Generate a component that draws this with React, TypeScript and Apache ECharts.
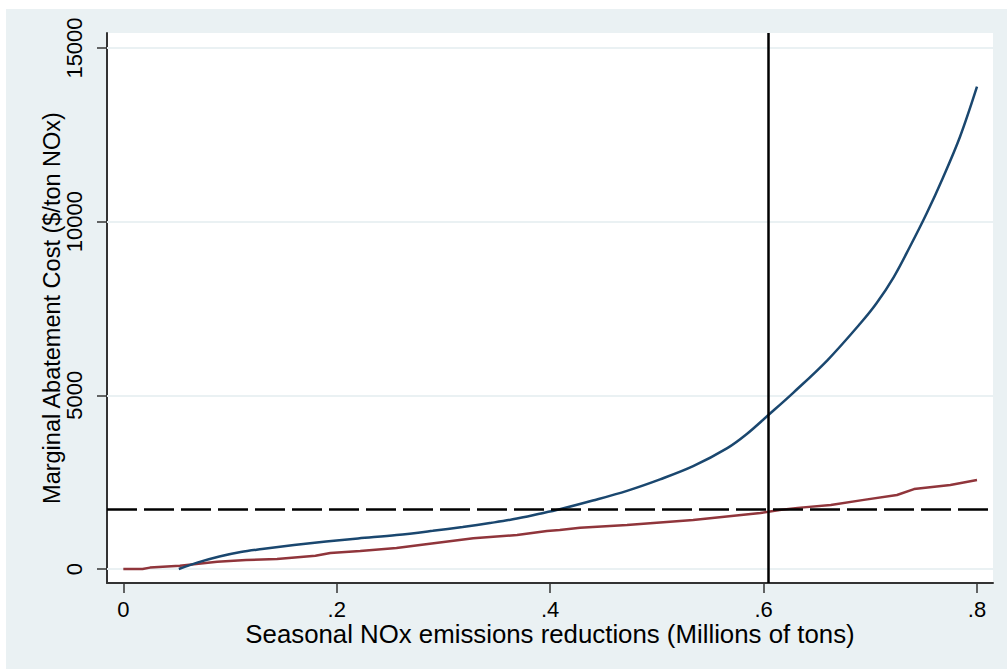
import React, { useEffect, useRef } from "react";
import * as echarts from "echarts";

// Blue curve (marginal abatement cost)
const blueX = [0.052, 0.07, 0.09, 0.11, 0.13, 0.16, 0.19, 0.22, 0.256, 0.29, 0.318, 0.345, 0.365, 0.39, 0.409, 0.44, 0.472, 0.503, 0.534, 0.566, 0.584, 0.604, 0.628, 0.66, 0.691, 0.706, 0.722, 0.737, 0.753, 0.768, 0.784, 0.8];
const blueY = [0, 190, 360, 490, 575, 690, 790, 880, 979, 1100, 1210, 1330, 1430, 1590, 1720, 1970, 2250, 2580, 2960, 3480, 3880, 4420, 5080, 6017, 7082, 7658, 8406, 9270, 10249, 11260, 12437, 13886];

// Red curve
const redX = [0, 0.018, 0.025, 0.053, 0.088, 0.115, 0.144, 0.18, 0.194, 0.222, 0.256, 0.278, 0.328, 0.369, 0.397, 0.409, 0.428, 0.472, 0.534, 0.597, 0.615, 0.632, 0.663, 0.694, 0.725, 0.741, 0.775, 0.8];
const redY = [0, 0, 40, 95, 210, 260, 290, 380, 460, 518, 605, 690, 883, 980, 1094, 1123, 1190, 1267, 1411, 1612, 1700, 1760, 1840, 1990, 2130, 2300, 2420, 2560];

const xTicks = [0, 0.2, 0.4, 0.6, 0.8];
const yTicks = [0, 5000, 10000, 15000];
const vLineX = 0.6045;
const hLineY = 1720;

const xTitle = "Seasonal NOx emissions reductions (Millions of tons)";
const yTitle = "Marginal Abatement Cost ($/ton NOx)";

const FONT = "'Liberation Sans', Arial, sans-serif";
const X_MIN = -0.0153;
const X_MAX = 0.815;
const Y_MIN = -403;
const Y_MAX = 15432;

export default function App() {
  const ref = useRef<HTMLDivElement>(null);
  useEffect(() => {
    if (!ref.current) return;
    const chart = echarts.init(ref.current, null, { renderer: "svg" });
    const zip = (xs: number[], ys: number[]) => xs.map((x, i) => [x, ys[i]]);
    chart.setOption({
      animation: false,
      backgroundColor: "#EAF1F3",
      textStyle: { fontFamily: FONT },
      graphic: [
        { type: "rect", shape: { x: 0, y: 0, width: 1007, height: 9 }, style: { fill: "#fff" }, silent: true },
        { type: "rect", shape: { x: 0, y: 0, width: 6, height: 669 }, style: { fill: "#fff" }, silent: true },
      ],
      grid: {
        left: 107, top: 33, width: 886, height: 550,
        show: true, backgroundColor: "#ffffff", borderWidth: 0,
      },
      xAxis: {
        type: "value",
        min: X_MIN,
        max: X_MAX,
        name: xTitle,
        nameLocation: "middle",
        nameGap: 38,
        nameMoveOverlap: false,
        nameTextStyle: { fontSize: 25.8, lineHeight: 26, color: "#000", fontFamily: FONT },
        axisLine: { show: true, onZero: false, lineStyle: { color: "#333", width: 2 } },
        axisTick: { show: true, customValues: xTicks, length: 10, lineStyle: { color: "#333", width: 1.5 } },
        axisLabel: {
          customValues: xTicks,
          fontSize: 22,
          lineHeight: 22,
          color: "#000",
          margin: 15,
          fontFamily: FONT,
          formatter: (v: number) => (v === 0 ? "0" : String(v).replace(/^0\./, ".")),
        },
        splitLine: { show: false },
      },
      yAxis: {
        type: "value",
        min: Y_MIN,
        max: Y_MAX,
        name: yTitle,
        nameLocation: "middle",
        nameGap: 43,
        nameMoveOverlap: false,
        nameTextStyle: { fontSize: 23.5, color: "#000", fontFamily: FONT },
        axisLine: { show: true, onZero: false, lineStyle: { color: "#333", width: 2 } },
        axisTick: { show: true, customValues: yTicks, length: 10, lineStyle: { color: "#333", width: 1.5 } },
        axisLabel: {
          customValues: yTicks,
          rotate: 90,
          fontSize: 22,
          color: "#000",
          margin: 22,
          fontFamily: FONT,
          formatter: (v: number) => String(v),
        },
        splitLine: { show: false },
      },
      series: [
        {
          type: "line",
          data: [],
          z: 1,
          markLine: {
            silent: true,
            symbol: "none",
            z: 1,
            label: { show: false },
            lineStyle: { color: "#EAF1F3", width: 2, type: "solid" },
            data: yTicks.map((v) => [{ coord: [X_MIN, v] }, { coord: [X_MAX, v] }]),
          },
        },
        {
          type: "line",
          data: zip(redX, redY),
          showSymbol: false,
          z: 3,
          lineStyle: { color: "#90353B", width: 2.5 },
          itemStyle: { color: "#90353B" },
        },
        {
          type: "line",
          data: zip(blueX, blueY),
          showSymbol: false,
          smooth: 0.35,
          z: 4,
          lineStyle: { color: "#1A476F", width: 2.5 },
          itemStyle: { color: "#1A476F" },
        },
        {
          type: "line",
          data: [],
          z: 5,
          markLine: {
            silent: true,
            symbol: "none",
            z: 5,
            label: { show: false },
            data: [
              [
                { coord: [vLineX, Y_MIN], lineStyle: { color: "#000", width: 2.5, type: "solid" } },
                { coord: [vLineX, Y_MAX] },
              ],
              [
                { coord: [X_MIN, hLineY], lineStyle: { color: "#000", width: 2.5, type: [30, 7] } },
                { coord: [X_MAX, hLineY] },
              ],
            ],
          },
        },
      ],
    });
    return () => chart.dispose();
  }, []);
  return (
    <div
      ref={ref}
      style={{ position: "fixed", left: 0, top: 0, width: 1007, height: 669 }}
    />
  );
}
